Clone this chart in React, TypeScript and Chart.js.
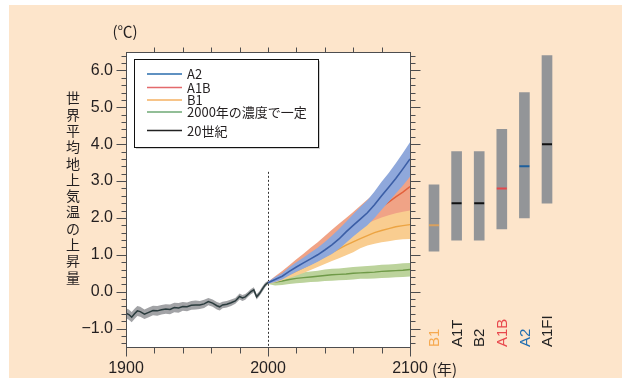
import React, { useEffect, useRef } from "react";
import { Chart, registerables } from "chart.js";
Chart.register(...registerables);

// ---------- data ----------
const histYears = [1900, 1902, 1904, 1906, 1908, 1910, 1913, 1916, 1919, 1922, 1925, 1928, 1931, 1934, 1937, 1940, 1943, 1946, 1949, 1952, 1955, 1958, 1961, 1964, 1966, 1968, 1971, 1974, 1977, 1980, 1982, 1984, 1986, 1988, 1990, 1992, 1994, 1996, 1998, 2000];
const histValues = [-0.58, -0.62, -0.69, -0.6, -0.52, -0.54, -0.61, -0.56, -0.51, -0.52, -0.49, -0.47, -0.48, -0.43, -0.44, -0.4, -0.41, -0.37, -0.36, -0.36, -0.33, -0.27, -0.31, -0.38, -0.41, -0.36, -0.34, -0.3, -0.25, -0.13, -0.17, -0.14, -0.07, 0.0, 0.05, -0.14, -0.05, 0.07, 0.18, 0.25];
const histUpper = [-0.45, -0.48, -0.55, -0.46, -0.39, -0.41, -0.48, -0.43, -0.38, -0.39, -0.36, -0.34, -0.35, -0.3, -0.31, -0.28, -0.29, -0.25, -0.24, -0.25, -0.22, -0.17, -0.21, -0.28, -0.31, -0.27, -0.25, -0.21, -0.17, -0.05, -0.09, -0.06, 0.0, 0.07, 0.12, -0.07, 0.02, 0.14, 0.24, 0.3];
const histLower = [-0.72, -0.76, -0.83, -0.74, -0.66, -0.68, -0.74, -0.69, -0.64, -0.65, -0.62, -0.6, -0.61, -0.56, -0.57, -0.52, -0.53, -0.49, -0.48, -0.47, -0.44, -0.37, -0.41, -0.48, -0.51, -0.45, -0.43, -0.39, -0.33, -0.21, -0.25, -0.22, -0.14, -0.07, -0.02, -0.21, -0.12, 0.0, 0.12, 0.2];

const futureYears = [2000, 2005, 2010, 2015, 2020, 2025, 2030, 2035, 2040, 2045, 2050, 2055, 2060, 2065, 2070, 2075, 2080, 2085, 2090, 2095, 2100];
const a2Values = [0.24, 0.33, 0.42, 0.55, 0.67, 0.78, 0.89, 1.0, 1.13, 1.27, 1.43, 1.62, 1.8, 1.97, 2.14, 2.36, 2.6, 2.83, 3.07, 3.33, 3.6];
const a2Upper = [0.27, 0.4, 0.5, 0.66, 0.8, 0.93, 1.06, 1.19, 1.35, 1.52, 1.7, 1.9, 2.1, 2.3, 2.48, 2.72, 2.98, 3.22, 3.48, 3.76, 4.05];
const a2Lower = [0.21, 0.26, 0.33, 0.44, 0.54, 0.63, 0.72, 0.81, 0.92, 1.02, 1.16, 1.33, 1.5, 1.65, 1.8, 2.0, 2.22, 2.44, 2.66, 2.88, 3.12];
const a1bValues = [0.24, 0.36, 0.48, 0.61, 0.74, 0.87, 1.0, 1.12, 1.26, 1.4, 1.53, 1.66, 1.8, 1.93, 2.05, 2.17, 2.3, 2.43, 2.57, 2.7, 2.85];
const a1bUpper = [0.27, 0.42, 0.56, 0.72, 0.88, 1.03, 1.19, 1.34, 1.51, 1.68, 1.84, 2.0, 2.16, 2.33, 2.5, 2.66, 2.8, 2.94, 3.08, 3.23, 3.4];
const a1bLower = [0.21, 0.3, 0.4, 0.5, 0.6, 0.71, 0.81, 0.9, 1.01, 1.12, 1.22, 1.32, 1.44, 1.54, 1.63, 1.72, 1.8, 1.88, 1.96, 2.03, 2.1];
const b1Values = [0.24, 0.31, 0.39, 0.47, 0.56, 0.65, 0.75, 0.85, 0.95, 1.06, 1.16, 1.26, 1.35, 1.44, 1.52, 1.6, 1.66, 1.71, 1.76, 1.79, 1.82];
const b1Upper = [0.27, 0.37, 0.47, 0.57, 0.68, 0.79, 0.91, 1.03, 1.16, 1.29, 1.41, 1.53, 1.65, 1.76, 1.85, 1.94, 2.01, 2.07, 2.13, 2.17, 2.2];
const b1Lower = [0.21, 0.25, 0.31, 0.37, 0.44, 0.51, 0.59, 0.67, 0.75, 0.83, 0.91, 0.99, 1.07, 1.18, 1.25, 1.3, 1.34, 1.37, 1.4, 1.42, 1.43];
const constValues = [0.24, 0.26, 0.29, 0.33, 0.36, 0.38, 0.4, 0.42, 0.44, 0.46, 0.47, 0.48, 0.5, 0.51, 0.52, 0.53, 0.55, 0.56, 0.57, 0.58, 0.6];
const constUpper = [0.27, 0.36, 0.41, 0.46, 0.5, 0.53, 0.55, 0.57, 0.6, 0.62, 0.63, 0.65, 0.67, 0.68, 0.7, 0.71, 0.73, 0.74, 0.75, 0.77, 0.78];
const constLower = [0.21, 0.17, 0.18, 0.21, 0.23, 0.24, 0.26, 0.27, 0.29, 0.3, 0.31, 0.32, 0.33, 0.35, 0.35, 0.36, 0.37, 0.38, 0.39, 0.4, 0.41];

const scenarios = ["B1", "A1T", "B2", "A1B", "A2", "A1FI"];
const scenarioLow = [1.1, 1.4, 1.4, 1.7, 2.0, 2.4];
const scenarioHigh = [2.9, 3.8, 3.8, 4.4, 5.4, 6.4];
const scenarioBest = [1.8, 2.4, 2.4, 2.8, 3.4, 4.0];
const scenarioTextColors = ["#f6a94f", "#222222", "#222222", "#e8474c", "#1f6db0", "#222222"];
const scenarioBestColors = ["#d9a15e", "#111111", "#111111", "#e5474a", "#1d5f9c", "#111111"];

const yTickValues = [-1, 0, 1, 2, 3, 4, 5, 6];
const yTickLabels = ["\u22121.0", "0.0", "1.0", "2.0", "3.0", "4.0", "5.0", "6.0"];
const xTickValues = [1900, 2000, 2100];
const xTickLabels = ["1900", "2000", "2100"];

const legendLabels = ["A2", "A1B", "B1", "2000年の濃度で一定", "20世紀"];
const legendColors = ["#2a6cad", "#e36a6c", "#f5b062", "#6ea874", "#222222"];
const yTitle = "世界平均地上気温の上昇量";

const PEACH = "#fde5cb";
const NUM_FONT = '"Liberation Sans", Arial, sans-serif';
const JP_FONT = '"Noto Sans CJK JP", sans-serif';

const xy = (xs: number[], ys: number[]) => xs.map((x, i) => ({ x, y: ys[i] }));

const lineDs = (data: any, color: string, width = 1.5) => ({
  data,
  borderColor: color,
  borderWidth: width,
  pointRadius: 0,
  fill: false,
  tension: 0,
});
const bandDs = (data: any, color: string, fill: any) => ({
  data,
  borderColor: "rgba(0,0,0,0)",
  borderWidth: 0,
  backgroundColor: color,
  pointRadius: 0,
  fill,
  tension: 0,
});

const px = (v: number) => Math.round(v) + 0.5;

const mainPlugin = {
  id: "mainDecor",
  beforeDraw(chart: any) {
    const { ctx, chartArea: a } = chart;
    ctx.save();
    ctx.fillStyle = PEACH;
    ctx.fillRect(9, 5, 613, 373);
    ctx.fillStyle = "#ffffff";
    ctx.fillRect(a.left, a.top, a.right - a.left, a.bottom - a.top);
    ctx.restore();
  },
  beforeDatasetsDraw(chart: any) {
    const { ctx, scales } = chart;
    const x = px(scales.x.getPixelForValue(2000));
    ctx.save();
    ctx.strokeStyle = "#333";
    ctx.lineWidth = 1;
    ctx.setLineDash([2, 2]);
    ctx.beginPath();
    ctx.moveTo(x, scales.y.getPixelForValue(3.25));
    ctx.lineTo(x, scales.y.getPixelForValue(-1.5));
    ctx.stroke();
    ctx.restore();
  },
  afterDraw(chart: any) {
    const { ctx, chartArea: a, scales } = chart;
    const xs = scales.x, ys = scales.y;
    const L = px(a.left), R = px(a.right), T = px(a.top), B = px(a.bottom);
    ctx.save();
    ctx.strokeStyle = "#4d4d4f";
    ctx.lineWidth = 1;
    ctx.strokeRect(L, T, R - L, B - T);
    ctx.beginPath();
    for (let i = -7; i <= 32; i++) {
      const v = i * 0.2;
      const y = px(ys.getPixelForValue(v));
      const major = i % 5 === 0;
      const len = major ? 10 : 5;
      ctx.moveTo(L, y); ctx.lineTo(L - len, y);
      ctx.moveTo(R, y); ctx.lineTo(R + len, y);
    }
    for (let yr = 1900; yr <= 2100; yr += 20) {
      const x = px(xs.getPixelForValue(yr));
      const major = yr % 100 === 0;
      ctx.moveTo(x, B); ctx.lineTo(x, B + (major ? 9 : 6));
      if (!major || yr === 2000) { ctx.moveTo(x, T); ctx.lineTo(x, T - 5); }
    }
    ctx.stroke();

    ctx.fillStyle = "#231f20";
    ctx.font = `16px ${NUM_FONT}`;
    ctx.textAlign = "right";
    ctx.textBaseline = "middle";
    yTickValues.forEach((v, i) => ctx.fillText(yTickLabels[i], a.left - 13, ys.getPixelForValue(v)));
    ctx.textAlign = "center";
    xTickValues.forEach((v, i) => ctx.fillText(xTickLabels[i], xs.getPixelForValue(v), 369));
    ctx.textAlign = "left";
    ctx.font = `15px ${JP_FONT}`;
    ctx.fillText("(年)", xs.getPixelForValue(2100) + 22, 369);
    ctx.textAlign = "center";
    ctx.fillText("(℃)", a.left - 1, 31);

    ctx.font = `14px ${JP_FONT}`;
    Array.from(yTitle).forEach((ch, i) => ctx.fillText(ch, 73, 98 + i * 16.3));

    const bx = 134, by = 59, bw = 184, bh = 88;
    ctx.fillStyle = "rgba(0,0,0,0.18)";
    ctx.fillRect(bx + 2, by + 2, bw, bh);
    ctx.fillStyle = "#fff";
    ctx.fillRect(bx, by, bw, bh);
    ctx.strokeStyle = "#111";
    ctx.strokeRect(bx + 0.5, by + 0.5, bw, bh);
    const rows = [74, 87.5, 100, 112, 130.5];
    ctx.font = `13px ${JP_FONT}`;
    ctx.textAlign = "left";
    legendLabels.forEach((lab, i) => {
      ctx.strokeStyle = legendColors[i];
      ctx.lineWidth = 1.5;
      ctx.beginPath();
      ctx.moveTo(147, rows[i]);
      ctx.lineTo(182, rows[i]);
      ctx.stroke();
      ctx.fillStyle = "#231f20";
      ctx.fillText(lab, 187, rows[i] + 0.5);
    });
    ctx.restore();
  },
};

const barLabelPlugin = {
  id: "barLabels",
  afterDraw(chart: any) {
    const { ctx, chartArea: a, scales } = chart;
    ctx.save();
    ctx.font = `15px ${NUM_FONT}`;
    ctx.textAlign = "left";
    ctx.textBaseline = "middle";
    scenarios.forEach((s, i) => {
      const x = scales.x.getPixelForValue(i) + 1;
      ctx.save();
      ctx.translate(x, a.bottom);
      ctx.rotate(-Math.PI / 2);
      ctx.fillStyle = scenarioTextColors[i];
      ctx.fillText(s, 0, 0);
      ctx.restore();
    });
    ctx.restore();
  },
};

export default function App() {
  const mainRef = useRef<HTMLCanvasElement>(null);
  const barRef = useRef<HTMLCanvasElement>(null);

  useEffect(() => {
    const main = new Chart(mainRef.current as HTMLCanvasElement, {
      type: "line",
      data: {
        datasets: [
          lineDs(xy(histYears, histValues), "#2a3b3d", 1.5),
          lineDs(xy(futureYears, a2Values), "#3b5ea6", 1.6),
          bandDs(xy(futureYears, a2Upper), "#8fa8db", "+1"),
          bandDs(xy(futureYears, a2Lower), "#8fa8db", false),
          lineDs(xy(futureYears, a1bValues), "#e2603c", 1.4),
          lineDs(xy(futureYears, b1Values), "#eca443", 1.4),
          bandDs(xy(futureYears, b1Upper), "#f9cd90", "+1"),
          bandDs(xy(futureYears, b1Lower), "#f9cd90", false),
          bandDs(xy(futureYears, a1bUpper), "#f0a386", "+1"),
          bandDs(xy(futureYears, a1bLower), "#f0a386", false),
          lineDs(xy(futureYears, constValues), "#6f9a48", 1.4),
          bandDs(xy(futureYears, constUpper), "#bcd39c", "+1"),
          bandDs(xy(futureYears, constLower), "#bcd39c", false),
          bandDs(xy(histYears, histUpper), "#a2a3a6", "+1"),
          bandDs(xy(histYears, histLower), "#a2a3a6", false),
        ] as any,
      },
      options: {
        animation: false,
        responsive: false,
        devicePixelRatio: 1,
        events: [],
        layout: { padding: { left: 126, right: 212, top: 52, bottom: 31 } },
        scales: {
          x: { type: "linear", min: 1900, max: 2100, display: false },
          y: { type: "linear", min: -1.5, max: 6.5, display: false },
        },
        plugins: { legend: { display: false }, tooltip: { enabled: false } },
      },
      plugins: [mainPlugin],
    });

    const bars = new Chart(barRef.current as HTMLCanvasElement, {
      type: "bar",
      data: {
        labels: scenarios,
        datasets: [
          {
            type: "line",
            data: scenarioBest,
            showLine: false,
            pointStyle: "line",
            pointRadius: 5,
            pointBorderWidth: 2,
            pointBorderColor: scenarioBestColors,
            pointBackgroundColor: scenarioBestColors,
            borderColor: "#111",
          },
          {
            type: "bar",
            data: scenarioLow.map((l, i) => [l, scenarioHigh[i]]),
            backgroundColor: "#939598",
            barThickness: 10,
            grouped: false,
            borderWidth: 0,
          },
        ] as any,
      },
      options: {
        animation: false,
        responsive: false,
        devicePixelRatio: 1,
        events: [],
        layout: { padding: { left: 10.7, right: 13.7, top: 52, bottom: 31 } },
        scales: {
          x: { type: "category", offset: true, display: false },
          y: { type: "linear", min: -1.5, max: 6.5, display: false },
        },
        plugins: { legend: { display: false }, tooltip: { enabled: false } },
      },
      plugins: [barLabelPlugin],
    });

    return () => {
      main.destroy();
      bars.destroy();
    };
  }, []);

  return (
    <div style={{ position: "fixed", left: 0, top: 0, width: 622, height: 378, background: "#ffffff" }}>
      <canvas ref={mainRef} width={622} height={378} style={{ position: "absolute", left: 0, top: 0 }} />
      <canvas ref={barRef} width={160} height={378} style={{ position: "absolute", left: 412, top: 0 }} />
    </div>
  );
}
